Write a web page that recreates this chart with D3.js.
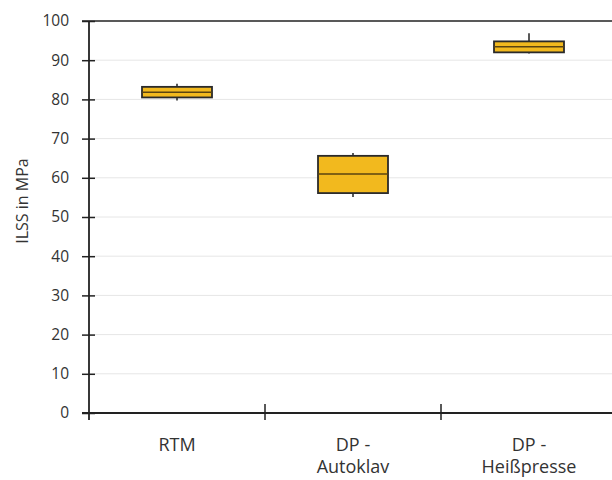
<!DOCTYPE html>
<html>
<head>
<meta charset="utf-8">
<script src="https://cdn.jsdelivr.net/npm/d3@7"></script>
<style>
  body { margin: 0; background: #fff; }
  text { font-family: "Open Sans", "Noto Sans", sans-serif; fill: #333; }
</style>
</head>
<body>
<svg id="chart" width="612" height="480"></svg>
<script>
// Kategorien und Boxplot-Kennwerte
var categories = ['RTM', 'DP - Autoklav', 'DP - Heißpresse'];
var labelLines = [['RTM'], ['DP -', 'Autoklav'], ['DP -', 'Heißpresse']];
var whiskerLow  = [79.7, 55.1, 91.7];
var boxLow      = [80.5, 56.1, 92.0];
var median      = [81.8, 61.0, 93.4];
var boxHigh     = [83.2, 65.6, 94.8];
var whiskerHigh = [84.0, 66.3, 96.9];
var yTicks = [0, 10, 20, 30, 40, 50, 60, 70, 80, 90, 100];

var svg = d3.select('#chart');
var plotLeft = 89, plotRight = 617, plotTop = 21, plotBottom = 413;

var x = d3.scaleBand().domain(categories).range([plotLeft, plotRight]).paddingInner(0).paddingOuter(0);
var y = d3.scaleLinear().domain([0, 100]).range([plotBottom, plotTop]);
var mid = function(d){ return x(d) + x.bandwidth() / 2; };

// gitterlinien
svg.append('g').selectAll('line').data(yTicks.filter(function(d){ return d > 0 && d < 100; }))
  .enter().append('line')
  .attr('x1', plotLeft).attr('x2', 612)
  .attr('y1', function(d){ return y(d); }).attr('y2', function(d){ return y(d); })
  .attr('stroke', '#e6e6e6').attr('stroke-width', 1);

// obere Linie
svg.append('line').attr('x1', plotLeft - 7).attr('x2', 612).attr('y1', y(100)).attr('y2', y(100))
  .attr('stroke', '#222').attr('stroke-width', 1.5);

// y-Achse
var yAxis = d3.axisLeft(y).tickValues(yTicks).tickSize(0).tickPadding(20);
var gy = svg.append('g').attr('transform', 'translate(' + plotLeft + ',0)').call(yAxis);
gy.select('.domain').remove();
gy.selectAll('text').style('font-size', '15.5px').attr('fill', '#333');
gy.selectAll('.tick').append('line').attr('x1', -7).attr('x2', 6).attr('stroke', '#222').attr('stroke-width', 1.5);
svg.append('line').attr('x1', plotLeft).attr('x2', plotLeft).attr('y1', y(100)).attr('y2', plotBottom + 7)
  .attr('stroke', '#222').attr('stroke-width', 1.8);

// x-Achse
svg.append('line').attr('x1', plotLeft - 7).attr('x2', 612).attr('y1', plotBottom).attr('y2', plotBottom)
  .attr('stroke', '#222').attr('stroke-width', 1.8);
svg.append('g').selectAll('line').data(categories.slice(1))
  .enter().append('line')
  .attr('x1', function(d){ return x(d); }).attr('x2', function(d){ return x(d); })
  .attr('y1', plotBottom - 9).attr('y2', plotBottom + 7)
  .attr('stroke', '#222').attr('stroke-width', 1.5);

var labels = svg.append('g').selectAll('text').data(categories)
  .enter().append('text')
  .attr('text-anchor', 'middle')
  .attr('x', mid)
  .attr('y', 451)
  .style('font-size', '18px');
labels.each(function(d, i){
  var t = d3.select(this);
  labelLines[i].forEach(function(line, j){
    t.append('tspan').attr('x', mid(d)).attr('dy', j === 0 ? 0 : 22).text(line);
  });
});

// Achsentitel
svg.append('text').attr('transform', 'translate(28,201) rotate(-90)')
  .attr('text-anchor', 'middle').style('font-size', '16px').text('ILSS in MPa');

// Boxplots
var boxW = 70;
var boxes = svg.append('g').selectAll('g').data(categories).enter().append('g');
boxes.append('line')
  .attr('x1', mid).attr('x2', mid)
  .attr('y1', function(d, i){ return y(whiskerHigh[i]); })
  .attr('y2', function(d, i){ return y(whiskerLow[i]); })
  .attr('stroke', '#222').attr('stroke-width', 1.5);
boxes.append('rect')
  .attr('x', function(d){ return mid(d) - boxW / 2; })
  .attr('width', boxW)
  .attr('y', function(d, i){ return y(boxHigh[i]); })
  .attr('height', function(d, i){ return y(boxLow[i]) - y(boxHigh[i]); })
  .attr('fill', '#f2b91e').attr('stroke', '#2a2a2a').attr('stroke-width', 1.8);
boxes.append('line')
  .attr('x1', function(d){ return mid(d) - boxW / 2; })
  .attr('x2', function(d){ return mid(d) + boxW / 2; })
  .attr('y1', function(d, i){ return y(median[i]); })
  .attr('y2', function(d, i){ return y(median[i]); })
  .attr('stroke', '#5a4410').attr('stroke-width', 1.5);
</script>
</body>
</html>
